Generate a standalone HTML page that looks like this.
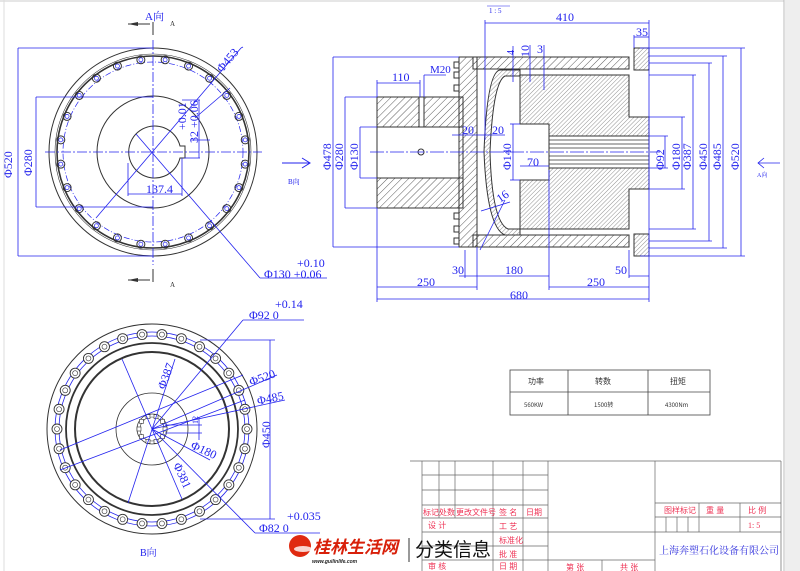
<!DOCTYPE html>
<html><head><meta charset="utf-8"><style>
html,body{margin:0;padding:0;background:#fff;}
svg{display:block;}
text{font-family:"Liberation Serif","Noto Serif CJK SC",serif;}
.b{fill:#2222ee;font-size:12px;}
.r{fill:#ee3355;font-size:8px;font-family:"Liberation Sans","Noto Sans CJK SC",sans-serif;}
</style></head><body>
<svg id="s" width="800" height="571" viewBox="0 0 800 571" xmlns="http://www.w3.org/2000/svg">
<defs>
<pattern id="h" width="5" height="5" patternUnits="userSpaceOnUse" patternTransform="rotate(45)"><line x1="0" y1="0" x2="0" y2="5" stroke="#333" stroke-width="0.8"/></pattern>
<pattern id="h2" width="3" height="3" patternUnits="userSpaceOnUse" patternTransform="rotate(45)"><line x1="0" y1="0" x2="0" y2="3" stroke="#444" stroke-width="0.6"/></pattern>
</defs>
<rect x="0" y="0" width="800" height="571" fill="#fff"/>
<line x1="0" y1="1" x2="784" y2="1" stroke="#ccc"/>
<line x1="4" y1="0" x2="4" y2="571" stroke="#ddd"/>
<rect x="785" y="0" width="15" height="571" fill="#eee"/>
<line x1="784" y1="0" x2="784" y2="571" stroke="#bbb"/>

<!-- TOP LEFT VIEW -->
<g id="tl" fill="none">
<circle cx="153" cy="152" r="104" stroke="#333" stroke-width="1"/>
<circle cx="153" cy="152" r="96" stroke="#333" stroke-width="1.6"/>
<circle cx="153" cy="152" r="98" stroke="#333" stroke-width="0.6"/>
<circle cx="153" cy="152" r="90" stroke="#2222ee" stroke-width="0.7" stroke-dasharray="6 2 1 2"/>
<circle cx="153" cy="152" r="56" stroke="#333" stroke-width="1"/>
<path d="M180,146 A26,26 0 1 0 180,158 L185,158 L185,146 Z" stroke="#333" stroke-width="1"/>
<g id="tlb"></g>
</g>
<g stroke="#2222ee" stroke-width="0.8" fill="none">
<line x1="153" y1="40" x2="153" y2="265" stroke-dasharray="10 2 2 2"/>
<line x1="45" y1="152" x2="262" y2="152" stroke-dasharray="10 2 2 2"/>
<line x1="18" y1="48" x2="153" y2="48"/><line x1="18" y1="256" x2="153" y2="256"/>
<line x1="18" y1="48" x2="18" y2="256"/>
<line x1="36" y1="97" x2="153" y2="97"/><line x1="36" y1="207" x2="153" y2="207"/>
<line x1="36" y1="97" x2="36" y2="207"/>
<line x1="96" y1="218" x2="241" y2="48"/><line x1="241" y1="48" x2="243" y2="47"/>
<line x1="136" y1="134" x2="260" y2="278"/><line x1="260" y1="278" x2="327" y2="278"/>
<line x1="128" y1="163" x2="128" y2="196"/><line x1="182" y1="158" x2="182" y2="196"/>
<line x1="128" y1="194" x2="182" y2="194"/>
<line x1="182" y1="100" x2="200" y2="100"/><line x1="184" y1="158" x2="200" y2="158"/><line x1="199" y1="100" x2="199" y2="158"/>
<line x1="190" y1="140" x2="210" y2="140"/>
<line x1="230" y1="88" x2="195" y2="118"/>
</g>
<g fill="#2222ee">
<text x="0" y="0" class="b" transform="translate(12,178) rotate(-90)">Φ520</text>
<text x="0" y="0" class="b" transform="translate(32,176) rotate(-90)">Φ280</text>
<text x="0" y="0" class="b" transform="translate(222,73) rotate(-50)">Φ453</text>
<text x="0" y="0" class="b" transform="translate(186,130) rotate(-90)">+0.01</text>
<text x="0" y="0" class="b" transform="translate(198,143) rotate(-90)">32 +0.06</text>
<text x="146" y="193" class="b">137.4</text>
<text x="297" y="267" class="b">+0.10</text>
<text x="264" y="278" class="b">Φ130  +0.06</text>
<text x="145" y="20" class="b" style="font-size:11px">A向</text>
<text x="170" y="26" style="font-size:7px" fill="#333">A</text>
<text x="170" y="287" style="font-size:7px" fill="#333">A</text>
<text x="288" y="184" class="b" style="font-size:7px">B向</text>
</g>
<g stroke="#333" fill="none" stroke-width="1">
<path d="M153,22 V35 M128,24 H150"/><path d="M153,269 V282 M128,280 H150"/>
</g>
<path d="M128,24 L138,22 L138,26 Z M128,280 L138,278 L138,282 Z" fill="#333"/>
<path d="M282,163 H310 M302,158 L310,163 L302,168" stroke="#2222ee" fill="none"/>

<!-- SECTION VIEW -->
<g stroke="#333" stroke-width="1">
<rect x="377" y="97" width="86" height="30" fill="url(#h)"/>
<rect x="377" y="178" width="86" height="30" fill="url(#h)"/>
<rect x="377" y="127" width="86" height="51" fill="#fff"/>
<rect x="419" y="97" width="5" height="30" fill="#fff"/>
<rect x="459" y="57" width="18" height="190" fill="url(#h)"/>
<rect x="473" y="57" width="156" height="12" fill="url(#h)"/>
<rect x="473" y="235" width="156" height="12" fill="url(#h)"/>
<path d="M520,75 H629 V117 H649 V136 H549 V124 H520 Z" fill="url(#h2)"/>
<path d="M520,229 H629 V189 H649 V168 H549 V180 H520 Z" fill="url(#h2)"/>
<rect x="549" y="136" width="100" height="32" fill="#fff"/>
<g stroke-width="0.7"><line x1="549" y1="140" x2="649" y2="140"/><line x1="549" y1="144" x2="649" y2="144"/><line x1="549" y1="148" x2="649" y2="148"/><line x1="549" y1="156" x2="649" y2="156"/><line x1="549" y1="160" x2="649" y2="160"/><line x1="549" y1="164" x2="649" y2="164"/></g>
<path d="M520,70 H500 Q487,72 484,152 Q487,228 505,235 H520 V229 H508 Q492,222 490,152 Q493,82 505,76 H520 Z" fill="url(#h2)"/>
<line x1="473" y1="69" x2="629" y2="69"/><line x1="473" y1="235" x2="629" y2="235"/>
<rect x="634" y="48" width="15" height="22" fill="url(#h2)"/>
<rect x="634" y="234" width="15" height="22" fill="url(#h2)"/>
<rect x="454" y="62" width="5" height="6" fill="#fff"/><rect x="454" y="72" width="5" height="6" fill="#fff"/><rect x="454" y="85" width="5" height="6" fill="#fff"/>
<rect x="454" y="213" width="5" height="6" fill="#fff"/><rect x="454" y="226" width="5" height="6" fill="#fff"/><rect x="454" y="238" width="5" height="6" fill="#fff"/>
<circle cx="421" cy="152" r="3" fill="#fff"/>
</g>
<g stroke="#2222ee" stroke-width="0.8" fill="none">
<line x1="370" y1="152" x2="660" y2="152" stroke-dasharray="14 2 2 2"/>
<line x1="333" y1="57" x2="459" y2="57"/><line x1="333" y1="247" x2="459" y2="247"/><line x1="333" y1="57" x2="333" y2="247"/>
<line x1="345" y1="97" x2="377" y2="97"/><line x1="345" y1="208" x2="377" y2="208"/><line x1="345" y1="97" x2="345" y2="208"/>
<line x1="360" y1="127" x2="377" y2="127"/><line x1="360" y1="178" x2="377" y2="178"/><line x1="360" y1="127" x2="360" y2="178"/>
<line x1="485" y1="20" x2="485" y2="140"/><line x1="649" y1="20" x2="649" y2="302"/><line x1="485" y1="23" x2="649" y2="23"/>
<line x1="634" y1="35" x2="634" y2="48"/><line x1="634" y1="37" x2="649" y2="37"/>
<line x1="377" y1="208" x2="377" y2="302"/><line x1="377" y1="299" x2="649" y2="299"/><line x1="377" y1="287" x2="477" y2="287"/>
<line x1="477" y1="247" x2="477" y2="290"/><line x1="549" y1="170" x2="549" y2="290"/><line x1="549" y1="287" x2="649" y2="287"/>
<line x1="465" y1="250" x2="465" y2="278"/><line x1="459" y1="276" x2="549" y2="276"/>
<line x1="629" y1="250" x2="629" y2="278"/><line x1="629" y1="276" x2="649" y2="276"/>
<line x1="377" y1="83" x2="420" y2="83"/><line x1="377" y1="80" x2="377" y2="97"/><line x1="420" y1="80" x2="420" y2="97"/>
<line x1="424" y1="75" x2="446" y2="75"/><line x1="424" y1="75" x2="424" y2="97"/>
<line x1="640" y1="48" x2="745" y2="48"/><line x1="649" y1="56" x2="727" y2="56"/><line x1="649" y1="63" x2="712" y2="63"/><line x1="649" y1="75" x2="696" y2="75"/><line x1="649" y1="117" x2="685" y2="117"/>
<line x1="640" y1="256" x2="745" y2="256"/><line x1="649" y1="248" x2="727" y2="248"/><line x1="649" y1="241" x2="712" y2="241"/><line x1="649" y1="229" x2="696" y2="229"/><line x1="649" y1="189" x2="685" y2="189"/>
<line x1="741" y1="48" x2="741" y2="256"/><line x1="723" y1="56" x2="723" y2="248"/><line x1="709" y1="63" x2="709" y2="241"/><line x1="693" y1="75" x2="693" y2="229"/><line x1="682" y1="117" x2="682" y2="189"/>
<line x1="665" y1="136" x2="665" y2="168"/><line x1="649" y1="136" x2="668" y2="136"/><line x1="649" y1="168" x2="668" y2="168"/>
<line x1="513" y1="124" x2="513" y2="180"/><line x1="510" y1="124" x2="520" y2="124"/><line x1="510" y1="180" x2="520" y2="180"/>
<line x1="520" y1="166" x2="549" y2="166"/>
<line x1="474" y1="135" x2="505" y2="135"/><line x1="452" y1="135" x2="474" y2="135"/>
<line x1="480" y1="250" x2="505" y2="200"/><line x1="481" y1="211" x2="510" y2="202"/>
<line x1="513" y1="46" x2="513" y2="82"/><line x1="530" y1="45" x2="530" y2="82"/><line x1="544" y1="45" x2="544" y2="90"/>
<path d="M758,163 H780 M764,158 L758,163 L764,168"/>
</g>
<g fill="#2222ee">
<text x="489" y="13" class="b" style="font-size:7px">1 : 5</text>
<line x1="487" y1="6" x2="510" y2="6" stroke="#2222ee" stroke-width="0.6"/>
<text x="556" y="21" class="b">410</text>
<text x="636" y="36" class="b">35</text>
<text x="0" y="0" class="b" transform="translate(331,170) rotate(-90)">Φ478</text>
<text x="0" y="0" class="b" transform="translate(343,170) rotate(-90)">Φ280</text>
<text x="0" y="0" class="b" transform="translate(358,170) rotate(-90)">Φ130</text>
<text x="392" y="81" class="b">110</text>
<text x="430" y="73" class="b" style="font-size:11px">M20</text>
<text x="0" y="0" class="b" transform="translate(514,55) rotate(-90)" style="font-size:10px">4</text>
<text x="0" y="0" class="b" transform="translate(529,57) rotate(-90)">10</text>
<text x="537" y="53" class="b">3</text>
<text x="462" y="134" class="b">20</text>
<text x="492" y="134" class="b">20</text>
<text x="0" y="0" class="b" transform="translate(511,170) rotate(-90)">Φ140</text>
<text x="527" y="166" class="b">70</text>
<text x="0" y="0" class="b" transform="translate(500,203) rotate(-35)">16</text>
<text x="0" y="0" class="b" transform="translate(664,170) rotate(-90)">Φ92</text>
<text x="0" y="0" class="b" transform="translate(680,170) rotate(-90)">Φ180</text>
<text x="0" y="0" class="b" transform="translate(691,170) rotate(-90)">Φ387</text>
<text x="0" y="0" class="b" transform="translate(707,170) rotate(-90)">Φ450</text>
<text x="0" y="0" class="b" transform="translate(721,170) rotate(-90)">Φ485</text>
<text x="0" y="0" class="b" transform="translate(739,170) rotate(-90)">Φ520</text>
<text x="757" y="177" class="b" style="font-size:6px">A向</text>
<text x="452" y="274" class="b">30</text>
<text x="505" y="274" class="b">180</text>
<text x="615" y="274" class="b">50</text>
<text x="417" y="286" class="b">250</text>
<text x="587" y="286" class="b">250</text>
<text x="510" y="299" class="b">680</text>
</g>

<!-- BOTTOM VIEW -->
<g fill="none" stroke="#333">
<circle cx="152" cy="429" r="105" stroke-width="1"/>
<circle cx="152" cy="429" r="86" stroke-width="1.8"/>
<circle cx="152" cy="429" r="77" stroke-width="2"/>
<circle cx="152" cy="429" r="36" stroke-width="0.8"/>
<circle cx="152" cy="429" r="15" stroke-width="0.8"/>
<circle cx="152" cy="429" r="12" stroke-width="0.6"/>
<circle cx="152" cy="429" r="93" stroke="#2222ee" stroke-width="0.8"/>
<circle cx="152" cy="429" r="97" stroke="#2222ee" stroke-width="0.8"/>
<g id="bb"></g>
</g>
<g stroke="#2222ee" stroke-width="0.8" fill="none">
<line x1="152" y1="429" x2="243" y2="320"/><line x1="243" y1="320" x2="304" y2="320"/>
<line x1="152" y1="429" x2="277" y2="375"/><line x1="152" y1="429" x2="285" y2="400"/>
<line x1="60" y1="450" x2="243" y2="375"/><line x1="60" y1="470" x2="245" y2="400"/>
<line x1="152" y1="429" x2="210" y2="460"/>
<line x1="152" y1="429" x2="255" y2="533"/><line x1="255" y1="533" x2="320" y2="533"/>
<line x1="122" y1="359" x2="182" y2="499"/>
<line x1="175" y1="359" x2="128" y2="503"/>
<line x1="200" y1="340" x2="275" y2="340"/><line x1="200" y1="519" x2="275" y2="519"/><line x1="270" y1="340" x2="270" y2="519"/>
<line x1="165" y1="425" x2="202" y2="425"/><line x1="165" y1="433" x2="202" y2="433"/><line x1="199" y1="417" x2="199" y2="440"/>
</g>
<g fill="#2222ee">
<text x="275" y="308" class="b">+0.14</text>
<text x="249" y="319" class="b">Φ92    0</text>
<text x="0" y="0" class="b" transform="translate(165,390) rotate(-70)">Φ387</text>
<text x="0" y="0" class="b" transform="translate(251,386) rotate(-20)">Φ520</text>
<text x="0" y="0" class="b" transform="translate(258,405) rotate(-12)">Φ485</text>
<text x="0" y="0" class="b" transform="translate(270,448) rotate(-90)">Φ450</text>
<text x="0" y="0" class="b" transform="translate(190,448) rotate(25)">Φ180</text>
<text x="0" y="0" class="b" transform="translate(173,465) rotate(65)">Φ381</text>
<text x="0" y="0" class="b" transform="translate(198,424) rotate(-90)" style="font-size:8px">12</text>
<text x="287" y="520" class="b">+0.035</text>
<text x="259" y="532" class="b">Φ82    0</text>
<text x="140" y="556" class="b" style="font-size:10px">B向</text>
</g>

<!-- TABLE -->
<g stroke="#444" stroke-width="0.8" fill="none">
<rect x="510" y="370" width="200" height="45"/>
<line x1="510" y1="392" x2="710" y2="392"/>
<line x1="568" y1="370" x2="568" y2="415"/><line x1="648" y1="370" x2="648" y2="415"/>
</g>
<g style="font-size:8px" fill="#333">
<text x="528" y="384" style="font-size:8px;font-family:'Noto Sans CJK SC',sans-serif">功率</text>
<text x="595" y="384" style="font-size:8px;font-family:'Noto Sans CJK SC',sans-serif">转数</text>
<text x="670" y="384" style="font-size:8px;font-family:'Noto Sans CJK SC',sans-serif">扭矩</text>
<text x="524" y="407" style="font-size:6px;font-family:'Noto Sans CJK SC',sans-serif">560KW</text>
<text x="594" y="407" style="font-size:6px;font-family:'Noto Sans CJK SC',sans-serif">1500转</text>
<text x="665" y="407" style="font-size:6px;font-family:'Noto Sans CJK SC',sans-serif">4300Nm</text>
</g>

<!-- TITLE BLOCK -->
<g stroke="#666" stroke-width="0.7" fill="none">
<line x1="410" y1="461" x2="781" y2="461"/>
<line x1="422" y1="461" x2="422" y2="571"/><line x1="439" y1="461" x2="439" y2="518"/><line x1="455" y1="461" x2="455" y2="518"/>
<line x1="493" y1="461" x2="493" y2="571"/><line x1="523" y1="461" x2="523" y2="571"/><line x1="548" y1="461" x2="548" y2="571"/>
<line x1="655" y1="461" x2="655" y2="571"/><line x1="781" y1="461" x2="781" y2="571"/>
<line x1="422" y1="475" x2="548" y2="475"/><line x1="422" y1="490" x2="548" y2="490"/><line x1="422" y1="505" x2="548" y2="505"/>
<line x1="422" y1="518" x2="548" y2="518"/><line x1="422" y1="532" x2="655" y2="532"/><line x1="422" y1="546" x2="548" y2="546"/><line x1="422" y1="560" x2="655" y2="560"/>
<line x1="602" y1="560" x2="602" y2="571"/>
<line x1="655" y1="503" x2="781" y2="503"/><line x1="655" y1="517" x2="781" y2="517"/><line x1="655" y1="532" x2="781" y2="532"/>
<line x1="699" y1="503" x2="699" y2="532"/><line x1="740" y1="503" x2="740" y2="532"/>
<line x1="666" y1="517" x2="666" y2="532"/><line x1="677" y1="517" x2="677" y2="532"/><line x1="688" y1="517" x2="688" y2="532"/>
</g>
<g>
<text x="423" y="515" class="r">标记</text><text x="439" y="515" class="r">处数</text><text x="456" y="515" class="r">更改文件号</text>
<text x="499" y="515" class="r">签 名</text><text x="526" y="515" class="r">日期</text>
<text x="428" y="528" class="r">设 计</text><text x="499" y="529" class="r">工 艺</text>
<text x="499" y="543" class="r">标准化</text><text x="499" y="557" class="r">批 准</text>
<text x="428" y="569" class="r">审 核</text><text x="499" y="569" class="r">日 期</text>
<text x="566" y="570" class="r">第 张</text><text x="620" y="570" class="r">共 张</text>
<text x="664" y="513" class="r">图样标记</text><text x="706" y="513" class="r">重  量</text><text x="748" y="513" class="r">比  例</text>
<text x="748" y="528" class="r" style="font-family:'Liberation Serif',serif">1: 5</text>
<text x="659" y="554" style="font-size:10px;font-family:'Noto Serif CJK SC',serif" fill="#3333dd">上海奔塑石化设备有限公司</text>
</g>

<!-- WATERMARK -->
<circle cx="300" cy="546" r="11" fill="#e02a10"/>
<ellipse cx="303" cy="549" rx="9" ry="3" fill="#fff" opacity="0.8"/>
<text x="313" y="553" style="font-size:17px;font-weight:bold;font-style:italic;font-family:'Noto Sans CJK SC',sans-serif" fill="#d8200a">桂林生活网</text>
<text x="312" y="563" style="font-size:5px;font-weight:bold;font-style:italic;font-family:'Liberation Sans',sans-serif" fill="#222">www.guilinlife.com</text>
<line x1="409" y1="538" x2="409" y2="562" stroke="#333" stroke-width="1"/>
<text x="415" y="556" style="font-size:19px;font-family:'Noto Sans CJK SC',sans-serif" fill="#111">分类信息</text>
</svg>
<script>
(function(){
var ns="http://www.w3.org/2000/svg";
function el(p,t,a){var e=document.createElementNS(ns,t);for(var k in a)e.setAttribute(k,a[k]);p.appendChild(e);return e;}
var g=document.getElementById("tlb");
for(var i=0;i<24;i++){var a=(i+0.5)/24*2*Math.PI;var x=153+93*Math.cos(a),y=152+93*Math.sin(a);
el(g,"circle",{cx:x,cy:y,r:4,stroke:"#333","stroke-width":"1",fill:"none"});
el(g,"circle",{cx:x,cy:y,r:2,stroke:"#2222ee","stroke-width":"0.7",fill:"none"});}
var b=document.getElementById("bb");
for(var i=0;i<30;i++){var a=i/30*2*Math.PI;var x=152+95*Math.cos(a),y=429+95*Math.sin(a);
el(b,"circle",{cx:x,cy:y,r:5,stroke:"#333","stroke-width":"0.9",fill:"#fff"});
el(b,"circle",{cx:x,cy:y,r:2.5,stroke:"#333","stroke-width":"0.6",fill:"none"});}
for(var i=0;i<10;i++){var a=i/10*2*Math.PI;el(b,"rect",{x:152+13*Math.cos(a)-2,y:429+13*Math.sin(a)-2,width:4,height:4,fill:"#fff",stroke:"#333","stroke-width":"0.6"});}
})();
</script>
</body></html>
